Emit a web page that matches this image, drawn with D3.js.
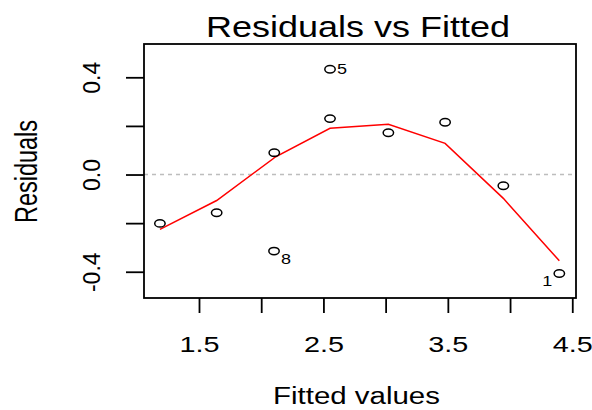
<!DOCTYPE html>
<html>
<head>
<meta charset="utf-8">
<script src="https://cdn.jsdelivr.net/npm/d3@7"></script>
<style>
  html, body { margin: 0; padding: 0; background: #fff; }
  svg { display: block; }
  text { font-family: "Liberation Sans", Arial, Helvetica, sans-serif; fill: #000; }
</style>
</head>
<body>
<svg id="chart" width="592" height="410"></svg>
<script>
// Observations of the linear model: index, fitted value, residual
const obsIds = [1, 2, 3, 4, 5, 6, 7, 8, 9, 10];
const fittedValues = [4.396, 3.946, 3.478, 3.022, 2.553, 2.553, 1.642, 2.103, 2.105, 1.186];
const residualValues = [-0.407, -0.046, 0.215, 0.172, 0.433, 0.230, -0.157, -0.315, 0.090, -0.201];

// Lowess smoother evaluated at the sorted fitted values
const smoothFitted = [1.186, 1.642, 2.103, 2.105, 2.553, 2.553, 3.022, 3.478, 3.946, 4.396];
const smoothResidual = [-0.226, -0.107, 0.068, 0.070, 0.190, 0.190, 0.207, 0.128, -0.098, -0.355];

// Axis ticks and their labels (blank where the label is dropped)
const xTicks = [1.5, 2.0, 2.5, 3.0, 3.5, 4.0, 4.5];
const xTickLabels = ["1.5", "", "2.5", "", "3.5", "", "4.5"];
const yTicks = [-0.4, -0.2, 0.0, 0.2, 0.4];
const yTickLabels = ["-0.4", "", "0.0", "", "0.4"];

const titleText = "Residuals vs Fitted";
const xTitle = "Fitted values";
const yTitle = "Residuals";
const nLabelled = 3;

const svg = d3.select("#chart");
const box = { left: 144, right: 576, top: 44, bottom: 298 };

const x = d3.scaleLinear().domain([1.058, 4.530]).range([box.left, box.right]);
const y = d3.scaleLinear().domain([-0.508, 0.537]).range([box.bottom, box.top]);

// zero reference line
svg.append("line")
  .attr("x1", box.left).attr("x2", box.right)
  .attr("y1", y(0)).attr("y2", y(0))
  .attr("stroke", "#bdbdbd").attr("stroke-width", 1.3)
  .attr("stroke-dasharray", "4,4");

// bottom axis
const gx = svg.append("g")
  .attr("transform", `translate(0,${box.bottom})`)
  .call(d3.axisBottom(x).tickValues(xTicks).tickSize(15).tickSizeOuter(0)
    .tickFormat((d, i) => xTickLabels[i]));
gx.select(".domain").remove();
gx.selectAll(".tick line").attr("stroke", "#000").attr("stroke-width", 1.8);
gx.selectAll(".tick text")
  .attr("y", null).attr("dy", null)
  .attr("transform", "translate(0,53.5) scale(1.28,1)")
  .attr("text-anchor", "middle")
  .style("font-size", "22.5px")
  .style("font-family", "'Liberation Sans', Arial, sans-serif")
  .attr("fill", "#000");

// left axis
const gy = svg.append("g")
  .attr("transform", `translate(${box.left},0)`)
  .call(d3.axisLeft(y).tickValues(yTicks).tickSize(18).tickSizeOuter(0)
    .tickFormat((d, i) => yTickLabels[i]));
gy.select(".domain").remove();
gy.selectAll(".tick line").attr("stroke", "#000").attr("stroke-width", 1.8);
gy.selectAll(".tick text")
  .attr("x", null).attr("dy", null)
  .attr("transform", "translate(-44,0) rotate(-90)")
  .attr("text-anchor", "middle")
  .style("font-size", "23px")
  .style("font-family", "'Liberation Sans', Arial, sans-serif")
  .attr("fill", "#000");

// lowess smoother
svg.append("path")
  .datum(smoothFitted.map((f, i) => [f, smoothResidual[i]]))
  .attr("fill", "none")
  .attr("stroke", "#ff0000")
  .attr("stroke-width", 1.5)
  .attr("d", d3.line().x(d => x(d[0])).y(d => y(d[1])));

// observations
const points = obsIds.map((id, i) => ({ id, f: fittedValues[i], r: residualValues[i] }));
svg.append("g").selectAll("ellipse")
  .data(points)
  .join("ellipse")
  .attr("cx", d => x(d.f))
  .attr("cy", d => y(d.r))
  .attr("rx", 5.2).attr("ry", 3.7)
  .attr("fill", "none")
  .attr("stroke", "#000")
  .attr("stroke-width", 1.5);

// label the largest absolute residuals
const xMid = (d3.min(fittedValues) + d3.max(fittedValues)) / 2;
const labelled = points.slice().sort((a, b) => Math.abs(b.r) - Math.abs(a.r)).slice(0, nLabelled);
svg.append("g").selectAll("text")
  .data(labelled)
  .join("text")
  .attr("transform", d => {
    const px = x(d.f) + (d.f > xMid ? -7 : 7);
    const py = y(d.r) + (d.r < 0 ? 8 : 0);
    return `translate(${px},${py}) scale(1.2,1)`;
  })
  .attr("text-anchor", d => d.f > xMid ? "end" : "start")
  .attr("dominant-baseline", "central")
  .style("font-size", "15px")
  .text(d => d.id);

// plot frame
svg.append("rect")
  .attr("x", box.left).attr("y", box.top)
  .attr("width", box.right - box.left).attr("height", box.bottom - box.top)
  .attr("fill", "none").attr("stroke", "#000").attr("stroke-width", 1.8);

// titles
svg.append("text")
  .attr("transform", "translate(358,36.5) scale(1.2,1)")
  .attr("text-anchor", "middle")
  .style("font-size", "30px")
  .text(titleText);

svg.append("text")
  .attr("transform", "translate(356.5,404) scale(1.28,1)")
  .attr("text-anchor", "middle")
  .style("font-size", "23px")
  .text(xTitle);

svg.append("text")
  .attr("transform", "translate(36.7,171.5) scale(1.34,1) rotate(-90)")
  .attr("text-anchor", "middle")
  .style("font-size", "23.5px")
  .text(yTitle);
</script>
</body>
</html>
